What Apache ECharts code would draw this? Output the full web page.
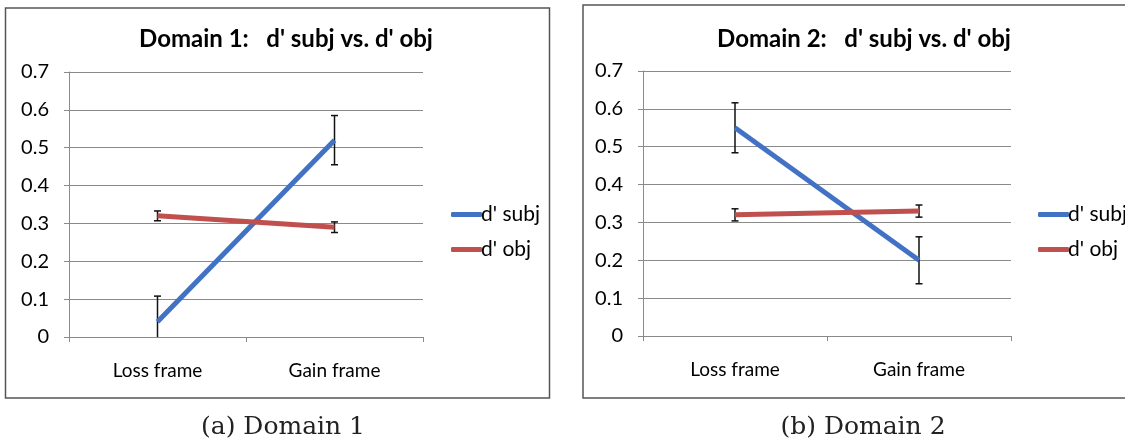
<!DOCTYPE html>
<html>
<head>
<meta charset="utf-8">
<script src="https://cdn.jsdelivr.net/npm/echarts@6/dist/echarts.min.js"></script>
<style>
html,body{margin:0;padding:0;background:#fff;}
#chart{width:1125px;height:445px;}
</style>
</head>
<body>
<div id="chart"></div>
<script>
// ---- data ----
const categories = ['Loss frame', 'Gain frame'];
const seriesNames = ["d' subj", "d' obj"];
const d1Subj = [0.04, 0.52];
const d1SubjErr = [0.068, 0.065];
const d1Obj = [0.32, 0.29];
const d1ObjErr = [0.013, 0.014];
const d2Subj = [0.55, 0.20];
const d2SubjErr = [0.066, 0.062];
const d2Obj = [0.32, 0.33];
const d2ObjErr = [0.016, 0.016];
const titles = ["Domain 1:   d' subj vs. d' obj", "Domain 2:   d' subj vs. d' obj"];
const captions = ['(a) Domain 1', '(b) Domain 2'];
const yMin = 0, yMax = 0.7, yInterval = 0.1;

// ---- styles ----
const BLUE = '#4272c4';
const RED = '#c0504d';
const GRID = '#8a8a8a';
const FONT = 'Lato, "Open Sans", sans-serif';

const chart = echarts.init(document.getElementById('chart'), null, {renderer: 'canvas'});

function errData(vals, errs) {
  return vals.map((v, i) => [i, v - errs[i], v + errs[i]]);
}
function errRender(params, api) {
  const i = api.value(0);
  let lo = api.value(1), hi = api.value(2);
  const top = api.coord([i, hi]);
  const showLoCap = lo >= yMin;
  const bot = api.coord([i, Math.max(lo, yMin)]);
  const half = 3.5;
  const children = [
    {type: 'line', shape: {x1: top[0], y1: top[1], x2: bot[0], y2: bot[1]}, style: {stroke: '#111', lineWidth: 1.5}},
    {type: 'line', shape: {x1: top[0] - half, y1: top[1], x2: top[0] + half, y2: top[1]}, style: {stroke: '#111', lineWidth: 1.5}}
  ];
  if (showLoCap) {
    children.push({type: 'line', shape: {x1: bot[0] - half, y1: bot[1], x2: bot[0] + half, y2: bot[1]}, style: {stroke: '#111', lineWidth: 1.5}});
  }
  return {type: 'group', children: children};
}

const grids = [
  {left: 69, top: 72, width: 354, height: 265},
  {left: 643, top: 71, width: 368, height: 265}
];

function xAxis(idx) {
  return {
    type: 'category', gridIndex: idx, data: categories, boundaryGap: true,
    axisLine: {show: true, lineStyle: {color: GRID, width: 1}},
    axisTick: {show: true, length: 5, lineStyle: {color: GRID}},
    axisLabel: {color: '#000', fontSize: 19, fontFamily: FONT, margin: 24},
    splitLine: {show: false}
  };
}
function yAxis(idx) {
  return {
    type: 'value', gridIndex: idx, min: yMin, max: yMax, interval: yInterval,
    axisLine: {show: true, lineStyle: {color: GRID, width: 1}},
    axisTick: {show: true, length: 5, lineStyle: {color: GRID}},
    axisLabel: {color: '#000', fontSize: 20, fontFamily: FONT, margin: 20,
      formatter: v => (v === 0 ? '0' : v.toFixed(1))},
    splitLine: {show: true, lineStyle: {color: GRID, width: 1.2}}
  };
}
function lineSeries(name, data, color, idx) {
  return {
    type: 'line', name: name, data: data, xAxisIndex: idx, yAxisIndex: idx,
    symbol: 'none', showSymbol: false, z: 5,
    lineStyle: {color: color, width: 5}, itemStyle: {color: color},
    emphasis: {disabled: true}, animation: false
  };
}
function errSeries(vals, errs, idx) {
  return {
    type: 'custom', xAxisIndex: idx, yAxisIndex: idx, z: 3,
    data: errData(vals, errs), renderItem: errRender, animation: false,
    encode: {x: 0, y: [1, 2]}
  };
}
function legend(left) {
  return {
    left: left, top: 199, orient: 'vertical', itemGap: 14,
    itemWidth: 31, itemHeight: 5, icon: 'roundRect',
    data: seriesNames,
    textStyle: {color: '#000', fontSize: 21, fontFamily: FONT, padding: [0, 0, 0, -6]}
  };
}

const option = {
  backgroundColor: '#fff',
  animation: false,
  title: [
    {text: titles[0], left: 281, top: 22, textAlign: 'center',
      textStyle: {fontSize: 24, fontWeight: 'bold', color: '#000', fontFamily: FONT}},
    {text: titles[1], left: 859, top: 22, textAlign: 'center',
      textStyle: {fontSize: 24, fontWeight: 'bold', color: '#000', fontFamily: FONT}},
    {text: captions[0], left: 278, top: 410, textAlign: 'center',
      textStyle: {fontSize: 25, fontWeight: 'normal', color: '#222', fontFamily: '"DejaVu Serif", serif'}},
    {text: captions[1], left: 858, top: 410, textAlign: 'center',
      textStyle: {fontSize: 25, fontWeight: 'normal', color: '#222', fontFamily: '"DejaVu Serif", serif'}}
  ],
  legend: [legend(446), legend(1033)],
  grid: grids,
  xAxis: [xAxis(0), xAxis(1)],
  yAxis: [yAxis(0), yAxis(1)],
  series: [
    errSeries(d1Subj, d1SubjErr, 0),
    errSeries(d1Obj, d1ObjErr, 0),
    lineSeries(seriesNames[0], d1Subj, BLUE, 0),
    lineSeries(seriesNames[1], d1Obj, RED, 0),
    errSeries(d2Subj, d2SubjErr, 1),
    errSeries(d2Obj, d2ObjErr, 1),
    lineSeries(seriesNames[0], d2Subj, BLUE, 1),
    lineSeries(seriesNames[1], d2Obj, RED, 1)
  ],
  graphic: [
    {type: 'rect', shape: {x: 5.5, y: 8, width: 544, height: 390}, style: {fill: 'none', stroke: '#555', lineWidth: 1.5}, z: -1},
    {type: 'rect', shape: {x: 583, y: 5, width: 560, height: 393}, style: {fill: 'none', stroke: '#555', lineWidth: 1.5}, z: -1}
  ]
};
chart.setOption(option);
</script>
</body>
</html>
